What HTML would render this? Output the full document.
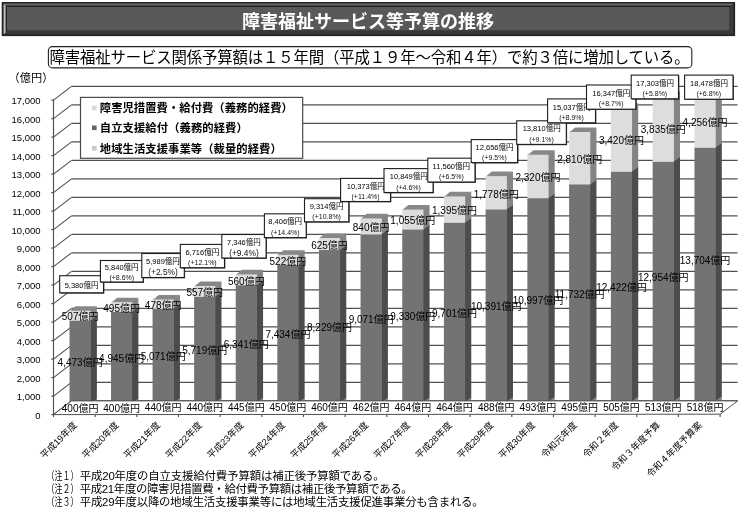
<!DOCTYPE html>
<html lang="ja">
<head>
<meta charset="utf-8">
<title>障害福祉サービス等予算の推移</title>
<style>
html,body{margin:0;padding:0;background:#fff;}
body{width:740px;height:511px;overflow:hidden;font-family:"Liberation Sans",sans-serif;}
svg{display:block;filter:blur(0.35px);}
svg text{font-family:"Liberation Sans","Noto Sans CJK JP",sans-serif;}
</style>
</head>
<body>
<svg width="740" height="511" viewBox="0 0 740 511" shape-rendering="geometricPrecision">
<rect width="740" height="511" fill="#fff"/>
<rect x="1.7" y="2" width="733.4" height="34.1" fill="#232323"/>
<polygon points="3.6,34.6 7,30.4 729.4,30.4 733.4,34.6" fill="#383838"/>
<polygon points="733.4,3.8 733.4,34.6 729.4,30.4 729.4,7" fill="#3c3c3c"/>
<polygon points="3.4,3.6 733.4,3.6 731.2,5.6 5.6,5.6" fill="#6a6a6a"/>
<polygon points="3.6,3.8 5.6,5.8 5.6,32.2 3.6,34.4" fill="#c2c2c2"/>
<rect x="7" y="7" width="722.3" height="23.4" fill="#595959"/>
<text x="242" y="27.86" font-size="18" font-weight="bold" fill="#fff" textLength="252" lengthAdjust="spacing">障害福祉サービス等予算の推移</text>
<rect x="48.4" y="46.6" width="643.4" height="21.3" rx="4" ry="4" fill="#fff" stroke="#222" stroke-width="1.1"/>
<text x="49.6" y="63.04" font-size="15.4" fill="#000" textLength="640" lengthAdjust="spacing">障害福祉サービス関係予算額は１５年間（平成１９年～令和４年）で約３倍に増加している。</text>
<text x="8.6" y="82.08" font-size="11.2" fill="#000">（億円）</text>
<g font-size="9.5" fill="#000" text-anchor="end">
<text x="40.6" y="418.84">0</text>
<text x="40.6" y="400.34">1,000</text>
<text x="40.6" y="381.84">2,000</text>
<text x="40.6" y="363.34">3,000</text>
<text x="40.6" y="344.84">4,000</text>
<text x="40.6" y="326.34">5,000</text>
<text x="40.6" y="307.84">6,000</text>
<text x="40.6" y="289.34">7,000</text>
<text x="40.6" y="270.84">8,000</text>
<text x="40.6" y="252.34">9,000</text>
<text x="40.6" y="233.84">10,000</text>
<text x="40.6" y="215.34">11,000</text>
<text x="40.6" y="196.84">12,000</text>
<text x="40.6" y="178.34">13,000</text>
<text x="40.6" y="159.84">14,000</text>
<text x="40.6" y="141.34">15,000</text>
<text x="40.6" y="122.84">16,000</text>
<text x="40.6" y="104.34">17,000</text>
</g>
<line x1="53.5" y1="414.6" x2="71.5" y2="400.9" stroke="#505050" stroke-width="1.15"/>
<line x1="71.5" y1="400.9" x2="737.6" y2="400.9" stroke="#505050" stroke-width="1.15"/>
<line x1="51.3" y1="414.6" x2="53.5" y2="414.6" stroke="#505050" stroke-width="1.15"/>
<line x1="53.5" y1="396.1" x2="71.5" y2="382.4" stroke="#505050" stroke-width="1.15"/>
<line x1="71.5" y1="382.4" x2="737.6" y2="382.4" stroke="#505050" stroke-width="1.15"/>
<line x1="51.3" y1="396.1" x2="53.5" y2="396.1" stroke="#505050" stroke-width="1.15"/>
<line x1="53.5" y1="377.6" x2="71.5" y2="363.9" stroke="#505050" stroke-width="1.15"/>
<line x1="71.5" y1="363.9" x2="737.6" y2="363.9" stroke="#505050" stroke-width="1.15"/>
<line x1="51.3" y1="377.6" x2="53.5" y2="377.6" stroke="#505050" stroke-width="1.15"/>
<line x1="53.5" y1="359.1" x2="71.5" y2="345.4" stroke="#505050" stroke-width="1.15"/>
<line x1="71.5" y1="345.4" x2="737.6" y2="345.4" stroke="#505050" stroke-width="1.15"/>
<line x1="51.3" y1="359.1" x2="53.5" y2="359.1" stroke="#505050" stroke-width="1.15"/>
<line x1="53.5" y1="340.6" x2="71.5" y2="326.9" stroke="#505050" stroke-width="1.15"/>
<line x1="71.5" y1="326.9" x2="737.6" y2="326.9" stroke="#505050" stroke-width="1.15"/>
<line x1="51.3" y1="340.6" x2="53.5" y2="340.6" stroke="#505050" stroke-width="1.15"/>
<line x1="53.5" y1="322.1" x2="71.5" y2="308.4" stroke="#505050" stroke-width="1.15"/>
<line x1="71.5" y1="308.4" x2="737.6" y2="308.4" stroke="#505050" stroke-width="1.15"/>
<line x1="51.3" y1="322.1" x2="53.5" y2="322.1" stroke="#505050" stroke-width="1.15"/>
<line x1="53.5" y1="303.6" x2="71.5" y2="289.9" stroke="#505050" stroke-width="1.15"/>
<line x1="71.5" y1="289.9" x2="737.6" y2="289.9" stroke="#505050" stroke-width="1.15"/>
<line x1="51.3" y1="303.6" x2="53.5" y2="303.6" stroke="#505050" stroke-width="1.15"/>
<line x1="53.5" y1="285.1" x2="71.5" y2="271.4" stroke="#505050" stroke-width="1.15"/>
<line x1="71.5" y1="271.4" x2="737.6" y2="271.4" stroke="#505050" stroke-width="1.15"/>
<line x1="51.3" y1="285.1" x2="53.5" y2="285.1" stroke="#505050" stroke-width="1.15"/>
<line x1="53.5" y1="266.6" x2="71.5" y2="252.9" stroke="#505050" stroke-width="1.15"/>
<line x1="71.5" y1="252.9" x2="737.6" y2="252.9" stroke="#505050" stroke-width="1.15"/>
<line x1="51.3" y1="266.6" x2="53.5" y2="266.6" stroke="#505050" stroke-width="1.15"/>
<line x1="53.5" y1="248.1" x2="71.5" y2="234.4" stroke="#505050" stroke-width="1.15"/>
<line x1="71.5" y1="234.4" x2="737.6" y2="234.4" stroke="#505050" stroke-width="1.15"/>
<line x1="51.3" y1="248.1" x2="53.5" y2="248.1" stroke="#505050" stroke-width="1.15"/>
<line x1="53.5" y1="229.6" x2="71.5" y2="215.9" stroke="#505050" stroke-width="1.15"/>
<line x1="71.5" y1="215.9" x2="737.6" y2="215.9" stroke="#505050" stroke-width="1.15"/>
<line x1="51.3" y1="229.6" x2="53.5" y2="229.6" stroke="#505050" stroke-width="1.15"/>
<line x1="53.5" y1="211.1" x2="71.5" y2="197.4" stroke="#505050" stroke-width="1.15"/>
<line x1="71.5" y1="197.4" x2="737.6" y2="197.4" stroke="#505050" stroke-width="1.15"/>
<line x1="51.3" y1="211.1" x2="53.5" y2="211.1" stroke="#505050" stroke-width="1.15"/>
<line x1="53.5" y1="192.6" x2="71.5" y2="178.9" stroke="#505050" stroke-width="1.15"/>
<line x1="71.5" y1="178.9" x2="737.6" y2="178.9" stroke="#505050" stroke-width="1.15"/>
<line x1="51.3" y1="192.6" x2="53.5" y2="192.6" stroke="#505050" stroke-width="1.15"/>
<line x1="53.5" y1="174.1" x2="71.5" y2="160.4" stroke="#505050" stroke-width="1.15"/>
<line x1="71.5" y1="160.4" x2="737.6" y2="160.4" stroke="#505050" stroke-width="1.15"/>
<line x1="51.3" y1="174.1" x2="53.5" y2="174.1" stroke="#505050" stroke-width="1.15"/>
<line x1="53.5" y1="155.6" x2="71.5" y2="141.9" stroke="#505050" stroke-width="1.15"/>
<line x1="71.5" y1="141.9" x2="737.6" y2="141.9" stroke="#505050" stroke-width="1.15"/>
<line x1="51.3" y1="155.6" x2="53.5" y2="155.6" stroke="#505050" stroke-width="1.15"/>
<line x1="53.5" y1="137.1" x2="71.5" y2="123.4" stroke="#505050" stroke-width="1.15"/>
<line x1="71.5" y1="123.4" x2="737.6" y2="123.4" stroke="#505050" stroke-width="1.15"/>
<line x1="51.3" y1="137.1" x2="53.5" y2="137.1" stroke="#505050" stroke-width="1.15"/>
<line x1="53.5" y1="118.6" x2="71.5" y2="104.9" stroke="#505050" stroke-width="1.15"/>
<line x1="71.5" y1="104.9" x2="737.6" y2="104.9" stroke="#505050" stroke-width="1.15"/>
<line x1="51.3" y1="118.6" x2="53.5" y2="118.6" stroke="#505050" stroke-width="1.15"/>
<line x1="53.5" y1="100.1" x2="71.5" y2="86.4" stroke="#505050" stroke-width="1.15"/>
<line x1="71.5" y1="86.4" x2="737.6" y2="86.4" stroke="#505050" stroke-width="1.15"/>
<line x1="51.3" y1="100.1" x2="53.5" y2="100.1" stroke="#505050" stroke-width="1.15"/>
<line x1="53.5" y1="99.6" x2="53.5" y2="415.1" stroke="#505050" stroke-width="1.15"/>
<polygon points="90.23,410.3 96.88,405.7 96.88,398.3 90.23,402.9" fill="#868686"/>
<polygon points="90.23,403.4 96.88,398.8 96.88,315.55 90.23,320.15" fill="#4c4c4c"/>
<polygon points="90.23,320.65 96.88,316.05 96.88,306.17 90.23,310.77" fill="#848484"/>
<polygon points="69.53,311.27 90.73,311.27 96.88,306.17 75.68,306.17" fill="#888888"/>
<polygon points="69.53,410.3 90.73,410.3 90.73,402.9 69.53,402.9" fill="#f0f0f0"/>
<polygon points="69.53,403.4 90.73,403.4 90.73,320.15 69.53,320.15" fill="#737373"/>
<polygon points="69.53,320.65 90.73,320.65 90.73,310.77 69.53,310.77" fill="#dddddd"/>
<polygon points="131.74,410.3 138.39,405.7 138.39,398.3 131.74,402.9" fill="#868686"/>
<polygon points="131.74,403.4 138.39,398.8 138.39,306.82 131.74,311.42" fill="#4c4c4c"/>
<polygon points="131.74,311.92 138.39,307.32 138.39,297.66 131.74,302.26" fill="#848484"/>
<polygon points="111.04,302.76 132.24,302.76 138.39,297.66 117.19,297.66" fill="#888888"/>
<polygon points="111.04,410.3 132.24,410.3 132.24,402.9 111.04,402.9" fill="#f0f0f0"/>
<polygon points="111.04,403.4 132.24,403.4 132.24,311.42 111.04,311.42" fill="#737373"/>
<polygon points="111.04,311.92 132.24,311.92 132.24,302.26 111.04,302.26" fill="#dddddd"/>
<polygon points="173.28,410.3 179.93,405.7 179.93,397.56 173.28,402.16" fill="#868686"/>
<polygon points="173.28,402.66 179.93,398.06 179.93,303.75 173.28,308.35" fill="#4c4c4c"/>
<polygon points="173.28,308.85 179.93,304.25 179.93,294.9 173.28,299.5" fill="#848484"/>
<polygon points="152.58,300 173.78,300 179.93,294.9 158.73,294.9" fill="#888888"/>
<polygon points="152.58,410.3 173.78,410.3 173.78,402.16 152.58,402.16" fill="#f0f0f0"/>
<polygon points="152.58,402.66 173.78,402.66 173.78,308.35 152.58,308.35" fill="#737373"/>
<polygon points="152.58,308.85 173.78,308.85 173.78,299.5 152.58,299.5" fill="#dddddd"/>
<polygon points="214.83,410.3 221.48,405.7 221.48,397.56 214.83,402.16" fill="#868686"/>
<polygon points="214.83,402.66 221.48,398.06 221.48,291.76 214.83,296.36" fill="#4c4c4c"/>
<polygon points="214.83,296.86 221.48,292.26 221.48,281.45 214.83,286.05" fill="#848484"/>
<polygon points="194.13,286.55 215.33,286.55 221.48,281.45 200.28,281.45" fill="#888888"/>
<polygon points="194.13,410.3 215.33,410.3 215.33,402.16 194.13,402.16" fill="#f0f0f0"/>
<polygon points="194.13,402.66 215.33,402.66 215.33,296.36 194.13,296.36" fill="#737373"/>
<polygon points="194.13,296.86 215.33,296.86 215.33,286.05 194.13,286.05" fill="#dddddd"/>
<polygon points="256.41,410.3 263.06,405.7 263.06,397.47 256.41,402.07" fill="#868686"/>
<polygon points="256.41,402.57 263.06,397.97 263.06,280.16 256.41,284.76" fill="#4c4c4c"/>
<polygon points="256.41,285.26 263.06,280.66 263.06,269.8 256.41,274.4" fill="#848484"/>
<polygon points="235.71,274.9 256.91,274.9 263.06,269.8 241.86,269.8" fill="#888888"/>
<polygon points="235.71,410.3 256.91,410.3 256.91,402.07 235.71,402.07" fill="#f0f0f0"/>
<polygon points="235.71,402.57 256.91,402.57 256.91,284.76 235.71,284.76" fill="#737373"/>
<polygon points="235.71,285.26 256.91,285.26 256.91,274.4 235.71,274.4" fill="#dddddd"/>
<polygon points="298.01,410.3 304.66,405.7 304.66,397.38 298.01,401.98" fill="#868686"/>
<polygon points="298.01,402.48 304.66,397.88 304.66,259.85 298.01,264.45" fill="#4c4c4c"/>
<polygon points="298.01,264.95 304.66,260.35 304.66,250.19 298.01,254.79" fill="#848484"/>
<polygon points="277.31,255.29 298.51,255.29 304.66,250.19 283.46,250.19" fill="#888888"/>
<polygon points="277.31,410.3 298.51,410.3 298.51,401.98 277.31,401.98" fill="#f0f0f0"/>
<polygon points="277.31,402.48 298.51,402.48 298.51,264.45 277.31,264.45" fill="#737373"/>
<polygon points="277.31,264.95 298.51,264.95 298.51,254.79 277.31,254.79" fill="#dddddd"/>
<polygon points="339.63,410.3 346.28,405.7 346.28,397.19 339.63,401.79" fill="#868686"/>
<polygon points="339.63,402.29 346.28,397.69 346.28,244.95 339.63,249.55" fill="#4c4c4c"/>
<polygon points="339.63,250.05 346.28,245.45 346.28,233.39 339.63,237.99" fill="#848484"/>
<polygon points="318.93,238.49 340.13,238.49 346.28,233.39 325.08,233.39" fill="#888888"/>
<polygon points="318.93,410.3 340.13,410.3 340.13,401.79 318.93,401.79" fill="#f0f0f0"/>
<polygon points="318.93,402.29 340.13,402.29 340.13,249.55 318.93,249.55" fill="#737373"/>
<polygon points="318.93,250.05 340.13,250.05 340.13,237.99 318.93,237.99" fill="#dddddd"/>
<polygon points="381.27,410.3 387.92,405.7 387.92,397.15 381.27,401.75" fill="#868686"/>
<polygon points="381.27,402.25 387.92,397.65 387.92,229.34 381.27,233.94" fill="#4c4c4c"/>
<polygon points="381.27,234.44 387.92,229.84 387.92,213.8 381.27,218.4" fill="#848484"/>
<polygon points="360.57,218.9 381.77,218.9 387.92,213.8 366.72,213.8" fill="#888888"/>
<polygon points="360.57,410.3 381.77,410.3 381.77,401.75 360.57,401.75" fill="#f0f0f0"/>
<polygon points="360.57,402.25 381.77,402.25 381.77,233.94 360.57,233.94" fill="#737373"/>
<polygon points="360.57,234.44 381.77,234.44 381.77,218.4 360.57,218.4" fill="#dddddd"/>
<polygon points="422.93,410.3 429.58,405.7 429.58,397.12 422.93,401.72" fill="#868686"/>
<polygon points="422.93,402.22 429.58,397.62 429.58,224.51 422.93,229.11" fill="#4c4c4c"/>
<polygon points="422.93,229.61 429.58,225.01 429.58,204.99 422.93,209.59" fill="#848484"/>
<polygon points="402.23,210.09 423.43,210.09 429.58,204.99 408.38,204.99" fill="#888888"/>
<polygon points="402.23,410.3 423.43,410.3 423.43,401.72 402.23,401.72" fill="#f0f0f0"/>
<polygon points="402.23,402.22 423.43,402.22 423.43,229.11 402.23,229.11" fill="#737373"/>
<polygon points="402.23,229.61 423.43,229.61 423.43,209.59 402.23,209.59" fill="#dddddd"/>
<polygon points="464.62,410.3 471.27,405.7 471.27,397.12 464.62,401.72" fill="#868686"/>
<polygon points="464.62,402.22 471.27,397.62 471.27,217.65 464.62,222.25" fill="#4c4c4c"/>
<polygon points="464.62,222.75 471.27,218.15 471.27,191.84 464.62,196.44" fill="#848484"/>
<polygon points="443.92,196.94 465.12,196.94 471.27,191.84 450.07,191.84" fill="#888888"/>
<polygon points="443.92,410.3 465.12,410.3 465.12,401.72 443.92,401.72" fill="#f0f0f0"/>
<polygon points="443.92,402.22 465.12,402.22 465.12,222.25 443.92,222.25" fill="#737373"/>
<polygon points="443.92,222.75 465.12,222.75 465.12,196.44 443.92,196.44" fill="#dddddd"/>
<polygon points="506.32,410.3 512.97,405.7 512.97,396.67 506.32,401.27" fill="#868686"/>
<polygon points="506.32,401.77 512.97,397.17 512.97,204.44 506.32,209.04" fill="#4c4c4c"/>
<polygon points="506.32,209.54 512.97,204.94 512.97,171.55 506.32,176.15" fill="#848484"/>
<polygon points="485.62,176.65 506.82,176.65 512.97,171.55 491.77,171.55" fill="#888888"/>
<polygon points="485.62,410.3 506.82,410.3 506.82,401.27 485.62,401.27" fill="#f0f0f0"/>
<polygon points="485.62,401.77 506.82,401.77 506.82,209.04 485.62,209.04" fill="#737373"/>
<polygon points="485.62,209.54 506.82,209.54 506.82,176.15 485.62,176.15" fill="#dddddd"/>
<polygon points="548.05,410.3 554.7,405.7 554.7,396.58 548.05,401.18" fill="#868686"/>
<polygon points="548.05,401.68 554.7,397.08 554.7,193.14 548.05,197.74" fill="#4c4c4c"/>
<polygon points="548.05,198.24 554.7,193.64 554.7,150.22 548.05,154.81" fill="#848484"/>
<polygon points="527.35,155.31 548.55,155.31 554.7,150.22 533.5,150.22" fill="#888888"/>
<polygon points="527.35,410.3 548.55,410.3 548.55,401.18 527.35,401.18" fill="#f0f0f0"/>
<polygon points="527.35,401.68 548.55,401.68 548.55,197.74 527.35,197.74" fill="#737373"/>
<polygon points="527.35,198.24 548.55,198.24 548.55,154.81 527.35,154.81" fill="#dddddd"/>
<polygon points="589.8,410.3 596.45,405.7 596.45,396.54 589.8,401.14" fill="#868686"/>
<polygon points="589.8,401.64 596.45,397.04 596.45,179.5 589.8,184.1" fill="#4c4c4c"/>
<polygon points="589.8,184.6 596.45,180 596.45,127.52 589.8,132.12" fill="#848484"/>
<polygon points="569.1,132.62 590.3,132.62 596.45,127.52 575.25,127.52" fill="#888888"/>
<polygon points="569.1,410.3 590.3,410.3 590.3,401.14 569.1,401.14" fill="#f0f0f0"/>
<polygon points="569.1,401.64 590.3,401.64 590.3,184.1 569.1,184.1" fill="#737373"/>
<polygon points="569.1,184.6 590.3,184.6 590.3,132.12 569.1,132.12" fill="#dddddd"/>
<polygon points="631.57,410.3 638.22,405.7 638.22,396.36 631.57,400.96" fill="#868686"/>
<polygon points="631.57,401.46 638.22,396.86 638.22,166.55 631.57,171.15" fill="#4c4c4c"/>
<polygon points="631.57,171.65 638.22,167.05 638.22,103.28 631.57,107.88" fill="#848484"/>
<polygon points="610.87,108.38 632.07,108.38 638.22,103.28 617.02,103.28" fill="#888888"/>
<polygon points="610.87,410.3 632.07,410.3 632.07,400.96 610.87,400.96" fill="#f0f0f0"/>
<polygon points="610.87,401.46 632.07,401.46 632.07,171.15 610.87,171.15" fill="#737373"/>
<polygon points="610.87,171.65 632.07,171.65 632.07,107.88 610.87,107.88" fill="#dddddd"/>
<polygon points="673.36,410.3 680.01,405.7 680.01,396.21 673.36,400.81" fill="#868686"/>
<polygon points="673.36,401.31 680.01,396.71 680.01,156.56 673.36,161.16" fill="#4c4c4c"/>
<polygon points="673.36,161.66 680.01,157.06 680.01,91.2 673.36,95.8" fill="#848484"/>
<polygon points="652.66,96.3 673.86,96.3 680.01,91.2 658.81,91.2" fill="#888888"/>
<polygon points="652.66,410.3 673.86,410.3 673.86,400.81 652.66,400.81" fill="#f0f0f0"/>
<polygon points="652.66,401.31 673.86,401.31 673.86,161.16 652.66,161.16" fill="#737373"/>
<polygon points="652.66,161.66 673.86,161.66 673.86,95.8 652.66,95.8" fill="#dddddd"/>
<polygon points="715.17,410.3 721.82,405.7 721.82,396.12 715.17,400.72" fill="#868686"/>
<polygon points="715.17,401.22 721.82,396.62 721.82,142.59 715.17,147.19" fill="#4c4c4c"/>
<polygon points="715.17,147.69 721.82,143.09 721.82,91.2 715.17,95.8" fill="#848484"/>
<polygon points="694.47,96.3 715.67,96.3 721.82,91.2 700.62,91.2" fill="#888888"/>
<polygon points="694.47,410.3 715.67,410.3 715.67,400.72 694.47,400.72" fill="#f0f0f0"/>
<polygon points="694.47,401.22 715.67,401.22 715.67,147.19 694.47,147.19" fill="#737373"/>
<polygon points="694.47,147.69 715.67,147.69 715.67,95.8 694.47,95.8" fill="#dddddd"/>
<polygon points="53.5,414.6 720.1,414.2 737.6,400.9 71.5,400.9" fill="#ffffff" stroke="#505050" stroke-width="1"/>
<line x1="53.5" y1="414.6" x2="53.5" y2="417" stroke="#505050" stroke-width="1.15"/>
<line x1="95.16" y1="414.58" x2="95.16" y2="417" stroke="#505050" stroke-width="1.15"/>
<line x1="136.82" y1="414.55" x2="136.82" y2="417" stroke="#505050" stroke-width="1.15"/>
<line x1="178.49" y1="414.53" x2="178.49" y2="417" stroke="#505050" stroke-width="1.15"/>
<line x1="220.15" y1="414.5" x2="220.15" y2="417" stroke="#505050" stroke-width="1.15"/>
<line x1="261.81" y1="414.48" x2="261.81" y2="417" stroke="#505050" stroke-width="1.15"/>
<line x1="303.48" y1="414.45" x2="303.48" y2="417" stroke="#505050" stroke-width="1.15"/>
<line x1="345.14" y1="414.43" x2="345.14" y2="417" stroke="#505050" stroke-width="1.15"/>
<line x1="386.8" y1="414.4" x2="386.8" y2="417" stroke="#505050" stroke-width="1.15"/>
<line x1="428.46" y1="414.38" x2="428.46" y2="417" stroke="#505050" stroke-width="1.15"/>
<line x1="470.12" y1="414.35" x2="470.12" y2="417" stroke="#505050" stroke-width="1.15"/>
<line x1="511.79" y1="414.33" x2="511.79" y2="417" stroke="#505050" stroke-width="1.15"/>
<line x1="553.45" y1="414.3" x2="553.45" y2="417" stroke="#505050" stroke-width="1.15"/>
<line x1="595.11" y1="414.28" x2="595.11" y2="417" stroke="#505050" stroke-width="1.15"/>
<line x1="636.77" y1="414.25" x2="636.77" y2="417" stroke="#505050" stroke-width="1.15"/>
<line x1="678.44" y1="414.23" x2="678.44" y2="417" stroke="#505050" stroke-width="1.15"/>
<line x1="720.1" y1="414.2" x2="720.1" y2="417" stroke="#505050" stroke-width="1.15"/>
<g font-size="10" fill="#000" text-anchor="middle">
<text x="80.13" y="411.64">400億円</text>
<text x="80.13" y="366.46">4,473億円</text>
<text x="80.13" y="320.4">507億円</text>
<text x="121.64" y="411.64">400億円</text>
<text x="121.64" y="362.1">4,945億円</text>
<text x="121.64" y="311.78">495億円</text>
<text x="163.18" y="411.27">440億円</text>
<text x="163.18" y="360.19">5,071億円</text>
<text x="163.18" y="308.86">478億円</text>
<text x="204.73" y="411.27">440億円</text>
<text x="204.73" y="354.2">5,719億円</text>
<text x="204.73" y="296.15">557億円</text>
<text x="246.31" y="411.22">445億円</text>
<text x="246.31" y="348.35">6,341億円</text>
<text x="246.31" y="284.52">560億円</text>
<text x="287.91" y="411.18">450億円</text>
<text x="287.91" y="338.15">7,434億円</text>
<text x="287.91" y="264.56">522億円</text>
<text x="329.53" y="411.08">460億円</text>
<text x="329.53" y="330.61">8,229億円</text>
<text x="329.53" y="248.71">625億円</text>
<text x="371.17" y="411.07">462億円</text>
<text x="371.17" y="322.79">9,071億円</text>
<text x="371.17" y="231.11">840億円</text>
<text x="412.83" y="411.05">464億円</text>
<text x="412.83" y="320.35">9,330億円</text>
<text x="412.83" y="224.29">1,055億円</text>
<text x="454.52" y="411.05">464億円</text>
<text x="454.52" y="316.92">9,701億円</text>
<text x="454.52" y="214.28">1,395億円</text>
<text x="496.22" y="410.83">488億円</text>
<text x="496.22" y="310.09">10,391億円</text>
<text x="496.22" y="197.53">1,778億円</text>
<text x="537.95" y="410.78">493億円</text>
<text x="537.95" y="304.4">10,997億円</text>
<text x="537.95" y="181.21">2,320億円</text>
<text x="579.7" y="410.76">495億円</text>
<text x="579.7" y="297.56">11,732億円</text>
<text x="579.7" y="163.05">2,810億円</text>
<text x="621.47" y="410.67">505億円</text>
<text x="621.47" y="290.99">12,422億円</text>
<text x="621.47" y="144.45">3,420億円</text>
<text x="663.26" y="410.59">513億円</text>
<text x="663.26" y="280.62">12,954億円</text>
<text x="663.26" y="133.42">3,835億円</text>
<text x="705.07" y="410.55">518億円</text>
<text x="705.07" y="264.39">13,704億円</text>
<text x="705.07" y="126.44">4,256億円</text>
</g>
<rect x="80.5" y="97.4" width="222.2" height="60.9" fill="#fff" stroke="#4a4a4a" stroke-width="1.2"/>
<rect x="92" y="105.7" width="4.6" height="4.6" fill="#d9d9d9"/>
<text x="99.8" y="112.25" font-size="11.3" font-weight="bold" fill="#000" textLength="193" lengthAdjust="spacing">障害児措置費・給付費（義務的経費）</text>
<rect x="92" y="125.5" width="4.6" height="4.6" fill="#666666"/>
<text x="99.8" y="132.05" font-size="11.3" font-weight="bold" fill="#000" textLength="148" lengthAdjust="spacing">自立支援給付（義務的経費）</text>
<rect x="92" y="146" width="4.6" height="4.6" fill="#c8c8c8"/>
<text x="99.8" y="152.55" font-size="11.3" font-weight="bold" fill="#000" textLength="182" lengthAdjust="spacing">地域生活支援事業等（裁量的経費）</text>
<rect x="60.5" y="276.5" width="43.8" height="17.1" fill="#2a2a2a"/>
<rect x="59.7" y="275.7" width="43.8" height="17.1" fill="#fff" stroke="#1e1e1e" stroke-width="1.1"/>
<text x="64.65" y="287.54" font-size="7.5" fill="#000">5,380億円</text>
<rect x="101.2" y="261.3" width="42.8" height="21.5" fill="#2a2a2a"/>
<rect x="100.4" y="260.5" width="42.8" height="21.5" fill="#fff" stroke="#1e1e1e" stroke-width="1.1"/>
<text x="104.85" y="270.04" font-size="7.5" fill="#000">5,840億円</text>
<text x="121.8" y="280.21" font-size="7" fill="#111" text-anchor="middle">(+8.6%)</text>
<rect x="142.6" y="254.3" width="42.5" height="24" fill="#2a2a2a"/>
<rect x="141.8" y="253.5" width="42.5" height="24" fill="#fff" stroke="#1e1e1e" stroke-width="1.1"/>
<text x="146.1" y="264.29" font-size="7.5" fill="#000">5,989億円</text>
<text x="163.05" y="274.9" font-size="8.4" fill="#111" text-anchor="middle">(+2.5%)</text>
<rect x="181.1" y="245.2" width="44.2" height="23.3" fill="#2a2a2a"/>
<rect x="180.3" y="244.4" width="44.2" height="23.3" fill="#fff" stroke="#1e1e1e" stroke-width="1.1"/>
<text x="185.45" y="254.84" font-size="7.5" fill="#000">6,716億円</text>
<text x="202.4" y="265.01" font-size="7" fill="#111" text-anchor="middle">(+12.1%)</text>
<rect x="222.6" y="235.3" width="44.3" height="23.5" fill="#2a2a2a"/>
<rect x="221.8" y="234.5" width="44.3" height="23.5" fill="#fff" stroke="#1e1e1e" stroke-width="1.1"/>
<text x="227" y="245.04" font-size="7.5" fill="#000">7,346億円</text>
<text x="243.95" y="255.65" font-size="8.4" fill="#111" text-anchor="middle">(+9.4%)</text>
<rect x="265.2" y="214.6" width="41.8" height="23.8" fill="#2a2a2a"/>
<rect x="264.4" y="213.8" width="41.8" height="23.8" fill="#fff" stroke="#1e1e1e" stroke-width="1.1"/>
<text x="268.35" y="224.49" font-size="7.5" fill="#000">8,406億円</text>
<text x="285.3" y="234.66" font-size="7" fill="#111" text-anchor="middle">(+14.4%)</text>
<rect x="305.3" y="199.5" width="44.3" height="23.1" fill="#2a2a2a"/>
<rect x="304.5" y="198.7" width="44.3" height="23.1" fill="#fff" stroke="#1e1e1e" stroke-width="1.1"/>
<text x="309.7" y="209.04" font-size="7.5" fill="#000">9,314億円</text>
<text x="326.65" y="219.21" font-size="7" fill="#111" text-anchor="middle">(+10.8%)</text>
<rect x="341.4" y="179.2" width="49.9" height="23.1" fill="#2a2a2a"/>
<rect x="340.6" y="178.4" width="49.9" height="23.1" fill="#fff" stroke="#1e1e1e" stroke-width="1.1"/>
<text x="346.75" y="188.74" font-size="7.5" fill="#000">10,373億円</text>
<text x="365.55" y="198.91" font-size="7" fill="#111" text-anchor="middle">(+11.4%)</text>
<rect x="384.8" y="169.4" width="49.1" height="23.9" fill="#2a2a2a"/>
<rect x="384" y="168.6" width="49.1" height="23.9" fill="#fff" stroke="#1e1e1e" stroke-width="1.1"/>
<text x="389.75" y="179.34" font-size="7.5" fill="#000">10,849億円</text>
<text x="408.55" y="189.51" font-size="7" fill="#111" text-anchor="middle">(+4.6%)</text>
<rect x="428.6" y="159" width="47.2" height="23.8" fill="#2a2a2a"/>
<rect x="427.8" y="158.2" width="47.2" height="23.8" fill="#fff" stroke="#1e1e1e" stroke-width="1.1"/>
<text x="432.6" y="168.89" font-size="7.5" fill="#000">11,560億円</text>
<text x="451.4" y="179.06" font-size="7" fill="#111" text-anchor="middle">(+6.5%)</text>
<rect x="472" y="140.4" width="46.4" height="23" fill="#2a2a2a"/>
<rect x="471.2" y="139.6" width="46.4" height="23" fill="#fff" stroke="#1e1e1e" stroke-width="1.1"/>
<text x="475.6" y="149.89" font-size="7.5" fill="#000">12,656億円</text>
<text x="494.4" y="160.06" font-size="7" fill="#111" text-anchor="middle">(+9.5%)</text>
<rect x="517.5" y="121.6" width="49.6" height="23.6" fill="#2a2a2a"/>
<rect x="516.7" y="120.8" width="49.6" height="23.6" fill="#fff" stroke="#1e1e1e" stroke-width="1.1"/>
<text x="522.7" y="131.39" font-size="7.5" fill="#000">13,810億円</text>
<text x="541.5" y="141.56" font-size="7" fill="#111" text-anchor="middle">(+9.1%)</text>
<rect x="548.4" y="99.7" width="47.9" height="23.9" fill="#2a2a2a"/>
<rect x="547.6" y="98.9" width="47.9" height="23.9" fill="#fff" stroke="#1e1e1e" stroke-width="1.1"/>
<text x="552.75" y="109.64" font-size="7.5" fill="#000">15,037億円</text>
<text x="571.55" y="119.81" font-size="7" fill="#111" text-anchor="middle">(+8.9%)</text>
<rect x="587.3" y="85.8" width="49.3" height="24.2" fill="#2a2a2a"/>
<rect x="586.5" y="85" width="49.3" height="24.2" fill="#fff" stroke="#1e1e1e" stroke-width="1.1"/>
<text x="592.35" y="95.89" font-size="7.5" fill="#000">16,347億円</text>
<text x="611.15" y="106.06" font-size="7" fill="#111" text-anchor="middle">(+8.7%)</text>
<rect x="632" y="75.9" width="47.3" height="23.7" fill="#2a2a2a"/>
<rect x="631.2" y="75.1" width="47.3" height="23.7" fill="#fff" stroke="#1e1e1e" stroke-width="1.1"/>
<text x="636.05" y="85.74" font-size="7.5" fill="#000">17,303億円</text>
<text x="654.85" y="95.91" font-size="7" fill="#111" text-anchor="middle">(+5.8%)</text>
<rect x="685.4" y="75.9" width="48.4" height="24.1" fill="#2a2a2a"/>
<rect x="684.6" y="75.1" width="48.4" height="24.1" fill="#fff" stroke="#1e1e1e" stroke-width="1.1"/>
<text x="690" y="85.94" font-size="7.5" fill="#000">18,478億円</text>
<text x="708.8" y="96.11" font-size="7" fill="#111" text-anchor="middle">(+6.8%)</text>
<g font-size="9.2" fill="#000" text-anchor="end">
<text transform="translate(77.49 425.76) rotate(-45)">平成19年度</text>
<text transform="translate(119.16 425.76) rotate(-45)">平成20年度</text>
<text transform="translate(160.82 425.76) rotate(-45)">平成21年度</text>
<text transform="translate(202.48 425.76) rotate(-45)">平成22年度</text>
<text transform="translate(244.14 425.76) rotate(-45)">平成23年度</text>
<text transform="translate(285.81 425.76) rotate(-45)">平成24年度</text>
<text transform="translate(327.47 425.76) rotate(-45)">平成25年度</text>
<text transform="translate(369.13 425.76) rotate(-45)">平成26年度</text>
<text transform="translate(410.79 425.76) rotate(-45)">平成27年度</text>
<text transform="translate(452.46 425.76) rotate(-45)">平成28年度</text>
<text transform="translate(494.12 425.76) rotate(-45)">平成29年度</text>
<text transform="translate(535.78 425.76) rotate(-45)">平成30年度</text>
<text transform="translate(577.44 425.76) rotate(-45)">令和元年度</text>
<text transform="translate(619.11 425.76) rotate(-45)">令和２年度</text>
<text transform="translate(660.77 425.76) rotate(-45)">令和３年度予算</text>
<text transform="translate(702.43 425.76) rotate(-45)">令和４年度予算案</text>
</g>
<text x="46.6" y="480.1" font-size="11.4" fill="#000" textLength="32" lengthAdjust="spacingAndGlyphs">（注１）</text>
<text x="79.7" y="480.13" font-size="11.4" fill="#000" textLength="305" lengthAdjust="spacing">平成20年度の自立支援給付費予算額は補正後予算額である。</text>
<text x="46.6" y="493.2" font-size="11.4" fill="#000" textLength="32" lengthAdjust="spacingAndGlyphs">（注２）</text>
<text x="79.7" y="493.2" font-size="11.4" fill="#000" textLength="333" lengthAdjust="spacing">平成21年度の障害児措置費・給付費予算額は補正後予算額である。</text>
<text x="46.6" y="506.3" font-size="11.4" fill="#000" textLength="32" lengthAdjust="spacingAndGlyphs">（注３）</text>
<text x="79.7" y="506.3" font-size="11.4" fill="#000" textLength="404" lengthAdjust="spacing">平成29年度以降の地域生活支援事業等には地域生活支援促進事業分も含まれる。</text>
</svg>
</body>
</html>
